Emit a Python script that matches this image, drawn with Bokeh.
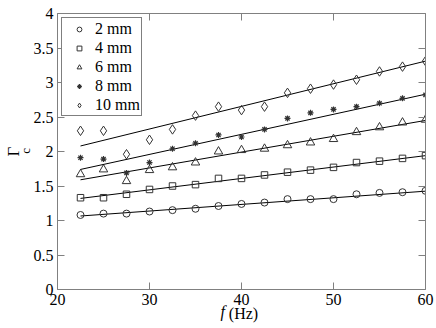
from bokeh.plotting import figure
from bokeh.models import (LinearAxis, FixedTicker, CustomJSTickFormatter,
                          Legend, LegendItem, Range1d)
from bokeh.embed import file_html
from bokeh.resources import INLINE

# ---------------- data ----------------
freq = [22.5, 25, 27.5, 30, 32.5, 35, 37.5, 40, 42.5, 45, 47.5, 50, 52.5, 55, 57.5, 60]
gamma_2mm = [1.08, 1.10, 1.10, 1.13, 1.15, 1.17, 1.21, 1.24, 1.26, 1.31, 1.31, 1.31, 1.38, 1.40, 1.41, 1.43]
gamma_4mm = [1.33, 1.33, 1.38, 1.45, 1.50, 1.52, 1.61, 1.61, 1.66, 1.70, 1.73, 1.77, 1.84, 1.86, 1.90, 1.94]
gamma_6mm = [1.67, 1.74, 1.57, 1.73, 1.77, 1.84, 2.00, 2.02, 2.04, 2.09, 2.13, 2.18, 2.28, 2.35, 2.42, 2.46]
gamma_8mm = [1.91, 1.89, 1.69, 1.84, 2.04, 2.12, 2.24, 2.21, 2.32, 2.48, 2.56, 2.61, 2.65, 2.70, 2.77, 2.82]
gamma_10mm = [2.30, 2.30, 1.96, 2.17, 2.32, 2.52, 2.65, 2.60, 2.65, 2.85, 2.91, 2.97, 3.04, 3.16, 3.23, 3.31]

series_labels = ["2 mm", "4 mm", "6 mm", "8 mm", "10 mm"]
series_values = [gamma_2mm, gamma_4mm, gamma_6mm, gamma_8mm, gamma_10mm]
# linear fit lines: value at first and last frequency
fit_freq = [22.5, 60]
fit_start = [1.065, 1.32, 1.59, 1.74, 2.08]
fit_end = [1.425, 1.94, 2.45, 2.83, 3.31]

x_ticks = [20, 30, 40, 50, 60]
y_ticks = [0, 0.5, 1, 1.5, 2, 2.5, 3, 3.5, 4]
x_title_main = "\u00a0(Hz)"
x_title_var = "f"
y_title_main = "Γ"
y_title_sub = "c"

# ---------------- styling ----------------
markers = ["circle", "square", "triangle", "asterisk", "diamond"]
marker_sizes = [7, 6.5, 8.5, 6, 9.5]
marker_color = "#333333"
axis_gray = "#808080"
FONT = "Liberation Serif"

p = figure(frame_width=368, frame_height=276,
           min_border_left=57, min_border_right=11, min_border_top=13, min_border_bottom=39,
           x_range=Range1d(20, 60), y_range=Range1d(0, 4),
           output_backend="svg", toolbar_location=None,
           x_axis_location=None, y_axis_location=None)
p.background_fill_color = "white"
p.border_fill_color = "white"
p.outline_line_color = None
p.xgrid.visible = False
p.ygrid.visible = False

fmt = CustomJSTickFormatter(code="return tick.toString();")

def style_axis(ax, ticks, show_labels):
    ax.ticker = FixedTicker(ticks=ticks)
    ax.formatter = fmt
    ax.axis_line_color = axis_gray
    ax.axis_line_width = 1
    ax.major_tick_line_color = axis_gray
    ax.major_tick_in = 7
    ax.major_tick_out = 0
    ax.minor_tick_line_color = None
    ax.major_label_text_font = FONT
    ax.major_label_text_color = "black"
    if show_labels:
        ax.major_label_text_font_size = "16px"
        ax.major_label_standoff = 4
    else:
        ax.major_label_text_font_size = "0px"
        ax.major_label_text_color = None
        ax.major_label_standoff = 0

def title_axis(ax, tick_pos, tick_text):
    ax.ticker = FixedTicker(ticks=[tick_pos])
    ax.formatter = CustomJSTickFormatter(args=dict(t=tick_text), code="return t;")
    ax.axis_line_color = None
    ax.major_tick_line_color = None
    ax.minor_tick_line_color = None
    ax.major_tick_in = 0
    ax.major_tick_out = 0
    ax.major_label_text_font = FONT
    ax.major_label_text_color = "black"
    ax.axis_label_text_font = FONT
    ax.axis_label_text_font_style = "normal"
    ax.axis_label_text_color = "black"

xb = LinearAxis(); style_axis(xb, x_ticks, True); p.add_layout(xb, "below")
yl = LinearAxis(); style_axis(yl, y_ticks, True); p.add_layout(yl, "left")
xt = LinearAxis(); style_axis(xt, x_ticks, False); p.add_layout(xt, "above")
yr = LinearAxis(); style_axis(yr, y_ticks, False); p.add_layout(yr, "right")

# x title: italic "f" as a positioned label, "(Hz)" as the axis label on the same row
xf = LinearAxis()
title_axis(xf, 37.95, x_title_var)
xf.major_label_text_font_style = "italic"
xf.major_label_text_font_size = "16px"
xf.major_label_standoff = -5
xf.axis_label = x_title_main
xf.axis_label_text_font_size = "16px"
xf.axis_label_standoff = -18
p.add_layout(xf, "below")

# y title: subscript "c" as a positioned label, "Γ" as the axis label
yc = LinearAxis()
title_axis(yc, 2.01, y_title_sub)
yc.major_label_orientation = "vertical"
yc.major_label_text_font_size = "13px"
yc.major_label_standoff = -3
yc.axis_label = y_title_main
yc.axis_label_text_font_size = "17px"
yc.axis_label_standoff = -7
p.add_layout(yc, "left")

items = []
for lab, vals, mk, ms, y0, y1 in zip(series_labels, series_values, markers,
                                      marker_sizes, fit_start, fit_end):
    p.line(fit_freq, [y0, y1], line_color="black", line_width=1)
    lw = 1.2 if mk == "asterisk" else 1
    r = p.scatter(freq, vals, marker=mk, size=ms, fill_color=None,
                  line_color=marker_color, line_width=lw)
    items.append(LegendItem(label=lab, renderers=[r]))

legend = Legend(items=items, location="top_left")
legend.margin = 4
legend.padding = 1
legend.spacing = 0
legend.glyph_width = 32
legend.glyph_height = 12
legend.label_height = 19
legend.label_standoff = -2
legend.label_text_font = FONT
legend.label_text_font_size = "16px"
legend.label_text_color = "black"
legend.border_line_color = "black"
legend.border_line_width = 1
legend.background_fill_color = "white"
legend.background_fill_alpha = 1
p.add_layout(legend, "center")

open("out.html", "w").write(file_html(p, INLINE))
